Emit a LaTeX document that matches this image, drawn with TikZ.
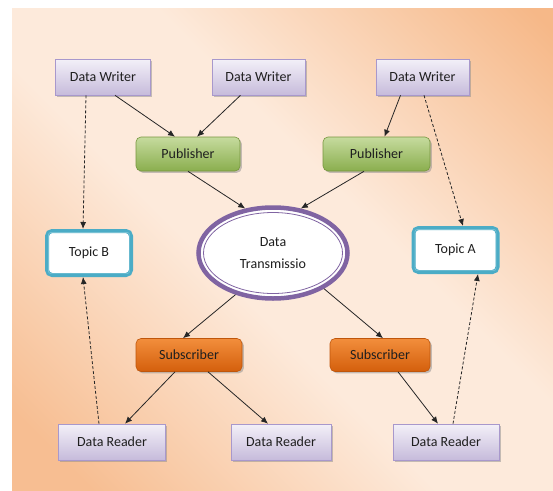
\documentclass[tikz,border=0pt]{standalone}
\usepackage{fontspec}
\setmainfont{Carlito}
\usetikzlibrary{shadows,arrows.meta,shapes.geometric}

\definecolor{bgdark}{HTML}{F6B888}
\definecolor{bgdarkb}{HTML}{F7BE92}
\definecolor{bglight}{HTML}{FDEADB}
\definecolor{boxtop}{HTML}{F3F0F8}
\definecolor{boxbot}{HTML}{C6BBDB}
\definecolor{boxedge}{HTML}{A898CC}
\definecolor{pubtop}{HTML}{C6DB9E}
\definecolor{pubbot}{HTML}{8AAE4E}
\definecolor{pubedge}{HTML}{77963F}
\definecolor{subtop}{HTML}{F28E3C}
\definecolor{subbot}{HTML}{D45F0C}
\definecolor{subedge}{HTML}{BF560B}
\definecolor{topicc}{HTML}{4BACC6}
\definecolor{ellc}{HTML}{8064A2}
\definecolor{ink}{HTML}{1F1F1F}

% soft diagonal panel shading: orange corners, wide light middle band
\pgfdeclareverticalshading{panelbg}{100bp}{%
  color(0bp)=(bgdarkb); color(20bp)=(bgdarkb);
  color(44bp)=(bglight); color(58bp)=(bglight);
  color(84bp)=(bgdark); color(100bp)=(bgdark)}

\tikzset{
  labelfont/.style={font=\fontsize{14}{16}\selectfont},
  shadowed/.style={drop shadow={shadow xshift=1.8pt, shadow yshift=-1.8pt, fill=black!45, opacity=0.5}},
  databox/.style={shadowed, draw=boxedge, line width=0.6pt, top color=boxtop, bottom color=boxbot,
    minimum height=36pt, text=ink, labelfont},
  pubbox/.style={shadowed, draw=pubedge, line width=0.6pt, top color=pubtop, bottom color=pubbot,
    rounded corners=5pt, minimum height=34pt, text=ink, labelfont},
  subbox/.style={shadowed, draw=subedge, line width=0.6pt, top color=subtop, bottom color=subbot,
    rounded corners=5pt, minimum height=33pt, text=ink, labelfont},
  topicbox/.style={draw=topicc, line width=4pt, fill=white, rounded corners=5pt,
    minimum width=84pt, minimum height=44pt, text=ink, labelfont},
  topicinner/.style={draw=topicc!75, line width=0.7pt, rounded corners=2.5pt},
  conn/.style={draw=black!85, line width=0.8pt, -{Latex[length=7pt,width=6pt]}},
  dconn/.style={conn, dash pattern=on 3pt off 2pt},
}

\begin{document}
\begin{tikzpicture}[x=1pt,y=-1pt]
\useasboundingbox (0,0) rectangle (553,490);
\fill[white] (0,0) rectangle (553,490);
% background panel
\shade[shading=panelbg, shading angle=-45] (12,8) rectangle (553,490);

% writers
\node[databox, minimum width=95pt] (dw1) at (103,77) {Data Writer};
\node[databox, minimum width=93pt] (dw2) at (258.5,77) {Data Writer};
\node[databox, minimum width=93pt] (dw3) at (422.5,77) {Data Writer};

% publishers
\node[pubbox, minimum width=104pt] (pub1) at (188,154) {Publisher};
\node[pubbox, minimum width=107pt] (pub2) at (376.5,154) {Publisher};

% data transmission ellipse
\node[ellipse, draw=ellc, line width=4.5pt, fill=white, inner sep=0pt,
      minimum width=149pt, minimum height=91pt, align=center, text=ink,
      font=\fontsize{14}{22}\selectfont] (el) at (273,253) {Data\\Transmissio};
\draw[ellc, line width=0.8pt] (el.center) ellipse [x radius=69.5pt, y radius=40.5pt];

% topics
\node[topicbox] (tb) at (89,253) {Topic B};
\node[topicbox] (ta) at (455.5,250) {Topic A};
\draw[topicinner] ([shift={(3.4pt,-3.4pt)}]tb.north west) rectangle ([shift={(-3.4pt,3.4pt)}]tb.south east);
\draw[topicinner] ([shift={(3.4pt,-3.4pt)}]ta.north west) rectangle ([shift={(-3.4pt,3.4pt)}]ta.south east);

% subscribers
\node[subbox, minimum width=106pt] (sub1) at (189,355) {Subscriber};
\node[subbox, minimum width=100pt] (sub2) at (380,355) {Subscriber};

% readers
\node[databox, minimum width=107pt] (dr1) at (112,442) {Data Reader};
\node[databox, minimum width=100pt] (dr2) at (281,442) {Data Reader};
\node[databox, minimum width=106pt] (dr3) at (446,442) {Data Reader};

% writer -> publisher
\draw[conn] ([xshift=12pt]dw1.south) -- ([xshift=-13pt]pub1.north);
\draw[conn] ([xshift=-18pt]dw2.south) -- ([xshift=9pt]pub1.north);
\draw[conn] ([xshift=-22pt]dw3.south) -- ([xshift=8pt]pub2.north);

% writer -> topic
\draw[dconn] ([xshift=-17pt]dw1.south) -- ([xshift=-6pt]tb.north);
\draw[dconn] ([xshift=1.5pt]dw3.south) -- ([xshift=7.5pt]ta.north);

% publisher -> transmission
\draw[conn] (pub1.south) -- (el.122);
\draw[conn] ([xshift=-12.5pt]pub2.south) -- (el.58);

% transmission -> subscriber
\draw[conn] (el.228) -- ([xshift=-6pt]sub1.north);
\draw[conn] (el.325) -- ([xshift=3pt]sub2.north);

% subscriber -> reader
\draw[conn] ([xshift=-14pt]sub1.south) -- ([xshift=13pt]dr1.north);
\draw[conn] ([xshift=19pt]sub1.south) -- ([xshift=-13pt]dr2.north);
\draw[conn] ([xshift=18pt]sub2.south) -- ([xshift=-8pt]dr3.north);

% reader -> topic
\draw[dconn] ([xshift=-13pt]dr1.north) -- ([xshift=-6pt]tb.south);
\draw[dconn] ([xshift=7pt]dr3.north) -- ([xshift=22.5pt]ta.south);
\end{tikzpicture}
\end{document}
